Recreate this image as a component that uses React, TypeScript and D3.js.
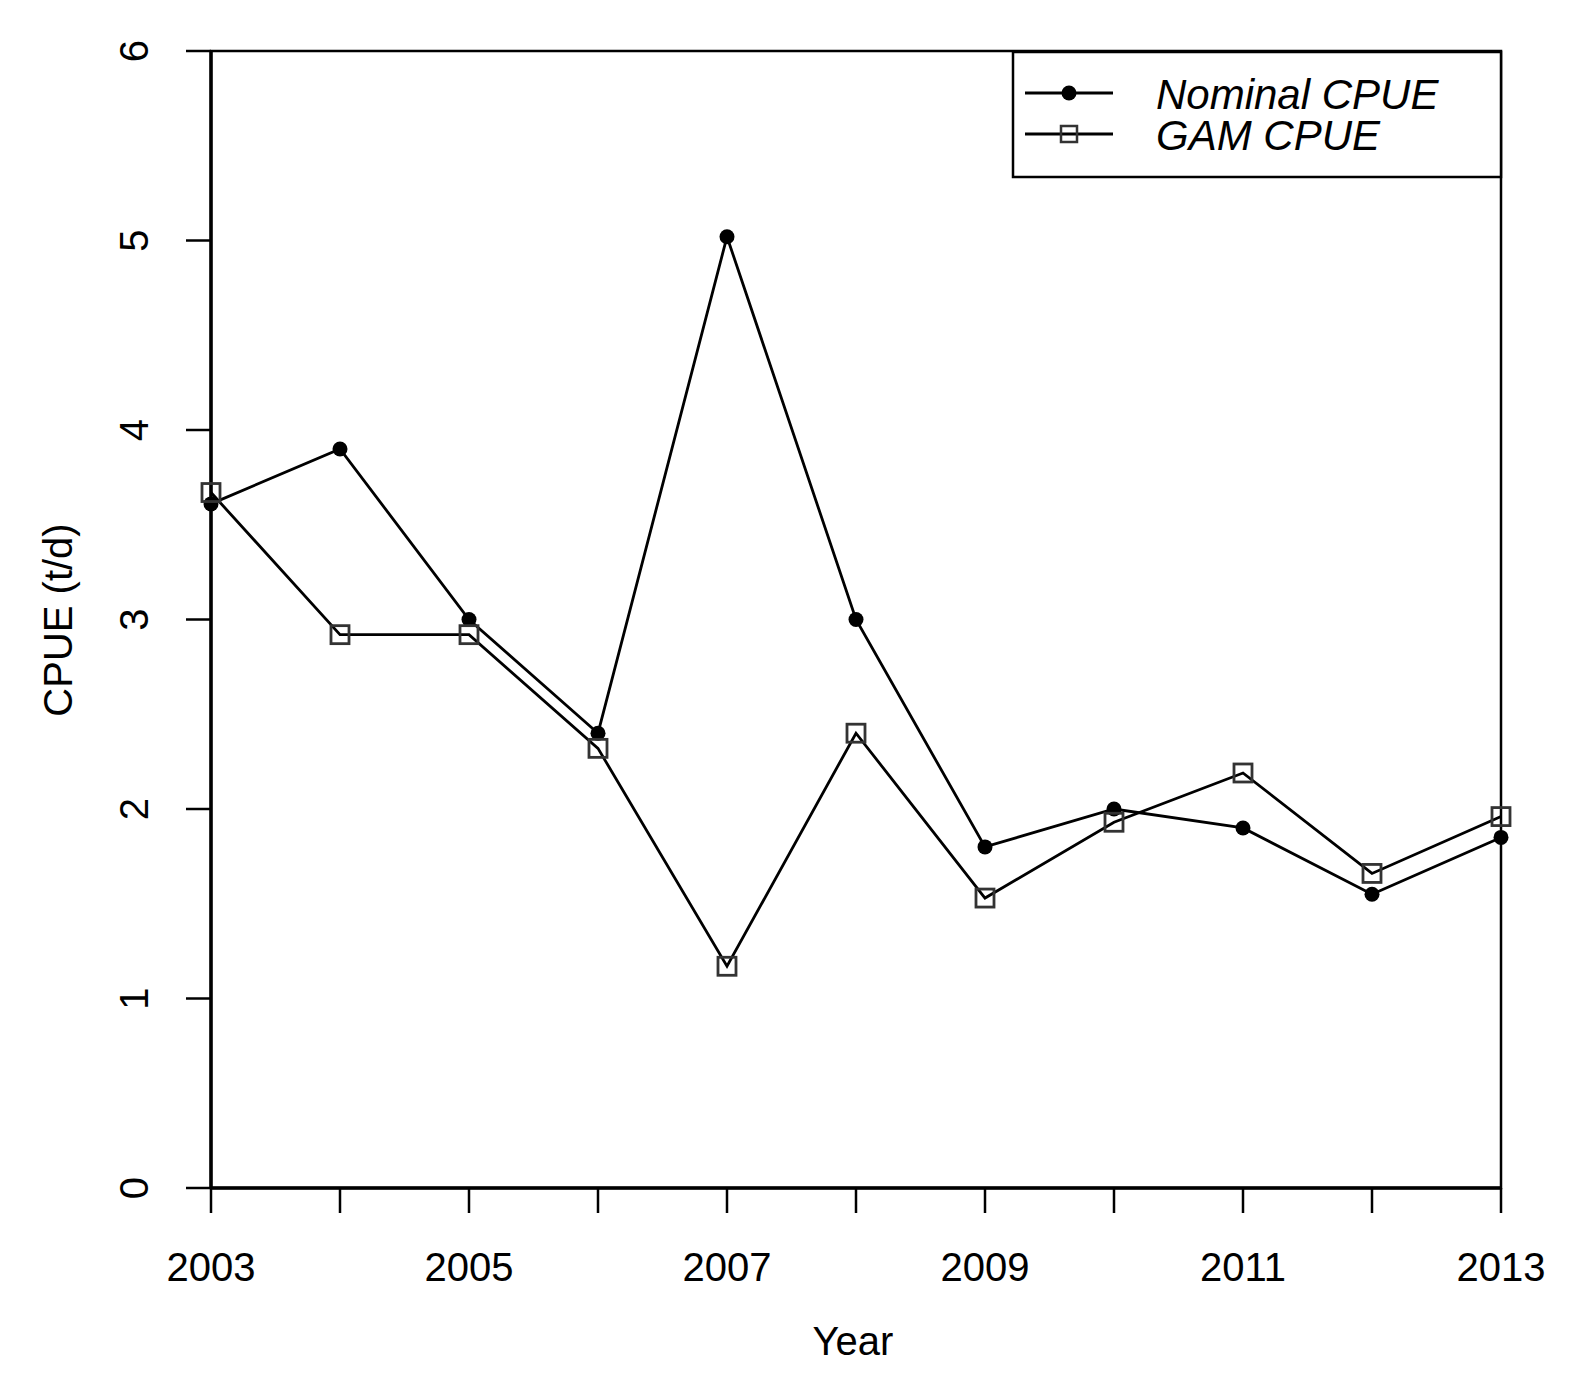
import * as d3 from 'd3';

const years = [2003, 2004, 2005, 2006, 2007, 2008, 2009, 2010, 2011, 2012, 2013];
const nominalCpue = [3.61, 3.9, 3.0, 2.4, 5.02, 3.0, 1.8, 2.0, 1.9, 1.55, 1.85];
const gamCpue = [3.67, 2.92, 2.92, 2.32, 1.17, 2.4, 1.53, 1.93, 2.19, 1.66, 1.96];
const xTickLabels = [2003, 2005, 2007, 2009, 2011, 2013];
const yTicks = [0, 1, 2, 3, 4, 5, 6];
const legendLabels = ['Nominal CPUE', 'GAM CPUE'];

const width = 1575;
const height = 1387;
const left = 211;
const right = 1501;
const top = 51;
const bottom = 1188;
const font = "'Liberation Sans', Arial, Helvetica, sans-serif";

export default function App() {
  const x = d3.scaleLinear().domain([2003, 2013]).range([left, right]);
  const y = d3.scaleLinear().domain([0, 6]).range([bottom, top]);

  const line = d3
    .line<number>()
    .x((_, i) => x(years[i]))
    .y((d) => y(d));

  const sq = 9;

  return (
    <svg
      width={width}
      height={height}
      viewBox={`0 0 ${width} ${height}`}
      style={{ position: 'absolute', left: 0, top: 0, background: '#fff' }}
      fontFamily={font}
    >
      {/* plot box */}
      <rect x={left} y={top} width={right - left} height={bottom - top} fill='none' stroke='#000' strokeWidth={2.5} />

      {/* y axis */}
      {yTicks.map((t) => (
        <g key={t}>
          <line x1={left - 25} x2={left} y1={y(t)} y2={y(t)} stroke='#000' strokeWidth={2.5} />
          <text
            transform={`translate(${134},${y(t)}) rotate(-90)`}
            textAnchor='middle'
            dominantBaseline='central'
            fontSize={40}
          >
            {t}
          </text>
        </g>
      ))}
      <line x1={left} x2={left} y1={top} y2={bottom} stroke='#000' strokeWidth={3.5} />

      {/* x axis */}
      {years.map((yr) => (
        <line key={yr} x1={x(yr)} x2={x(yr)} y1={bottom} y2={bottom + 25} stroke='#000' strokeWidth={2.5} />
      ))}
      {xTickLabels.map((yr) => (
        <text key={yr} x={x(yr)} y={1281} textAnchor='middle' fontSize={40}>
          {yr}
        </text>
      ))}
      <line x1={left} x2={right} y1={bottom} y2={bottom} stroke='#000' strokeWidth={3.5} />

      {/* axis titles */}
      <text x={853} y={1355} textAnchor='middle' fontSize={40}>
        Year
      </text>
      <text transform={`translate(58,620) rotate(-90)`} textAnchor='middle' dominantBaseline='central' fontSize={40}>
        CPUE (t/d)
      </text>

      {/* lines */}
      <path d={line(nominalCpue) ?? ''} fill='none' stroke='#000' strokeWidth={2.8} />
      <path d={line(gamCpue) ?? ''} fill='none' stroke='#000' strokeWidth={2.8} />

      {nominalCpue.map((v, i) => (
        <circle key={`n${i}`} cx={x(years[i])} cy={y(v)} r={7.5} fill='#000' />
      ))}
      {gamCpue.map((v, i) => (
        <rect
          key={`g${i}`}
          x={x(years[i]) - sq}
          y={y(v) - sq}
          width={sq * 2}
          height={sq * 2}
          fill='none'
          stroke='#333'
          strokeWidth={2.8}
        />
      ))}

      {/* legend */}
      <rect x={1013} y={52} width={right - 1013} height={125} fill='#fff' stroke='#000' strokeWidth={2.5} />
      {legendLabels.map((lab, i) => {
        const ly = 93 + i * 41;
        return (
          <g key={lab}>
            <line x1={1025} x2={1113} y1={ly} y2={ly} stroke='#000' strokeWidth={2.8} />
            {i === 0 ? (
              <circle cx={1069} cy={ly} r={7.5} fill='#000' />
            ) : (
              <rect x={1069 - 8} y={ly - 8} width={16} height={16} fill='none' stroke='#333' strokeWidth={2.5} />
            )}
            <text x={1156} y={ly + 16} fontSize={42} fontStyle='italic'>
              {lab}
            </text>
          </g>
        );
      })}
    </svg>
  );
}
